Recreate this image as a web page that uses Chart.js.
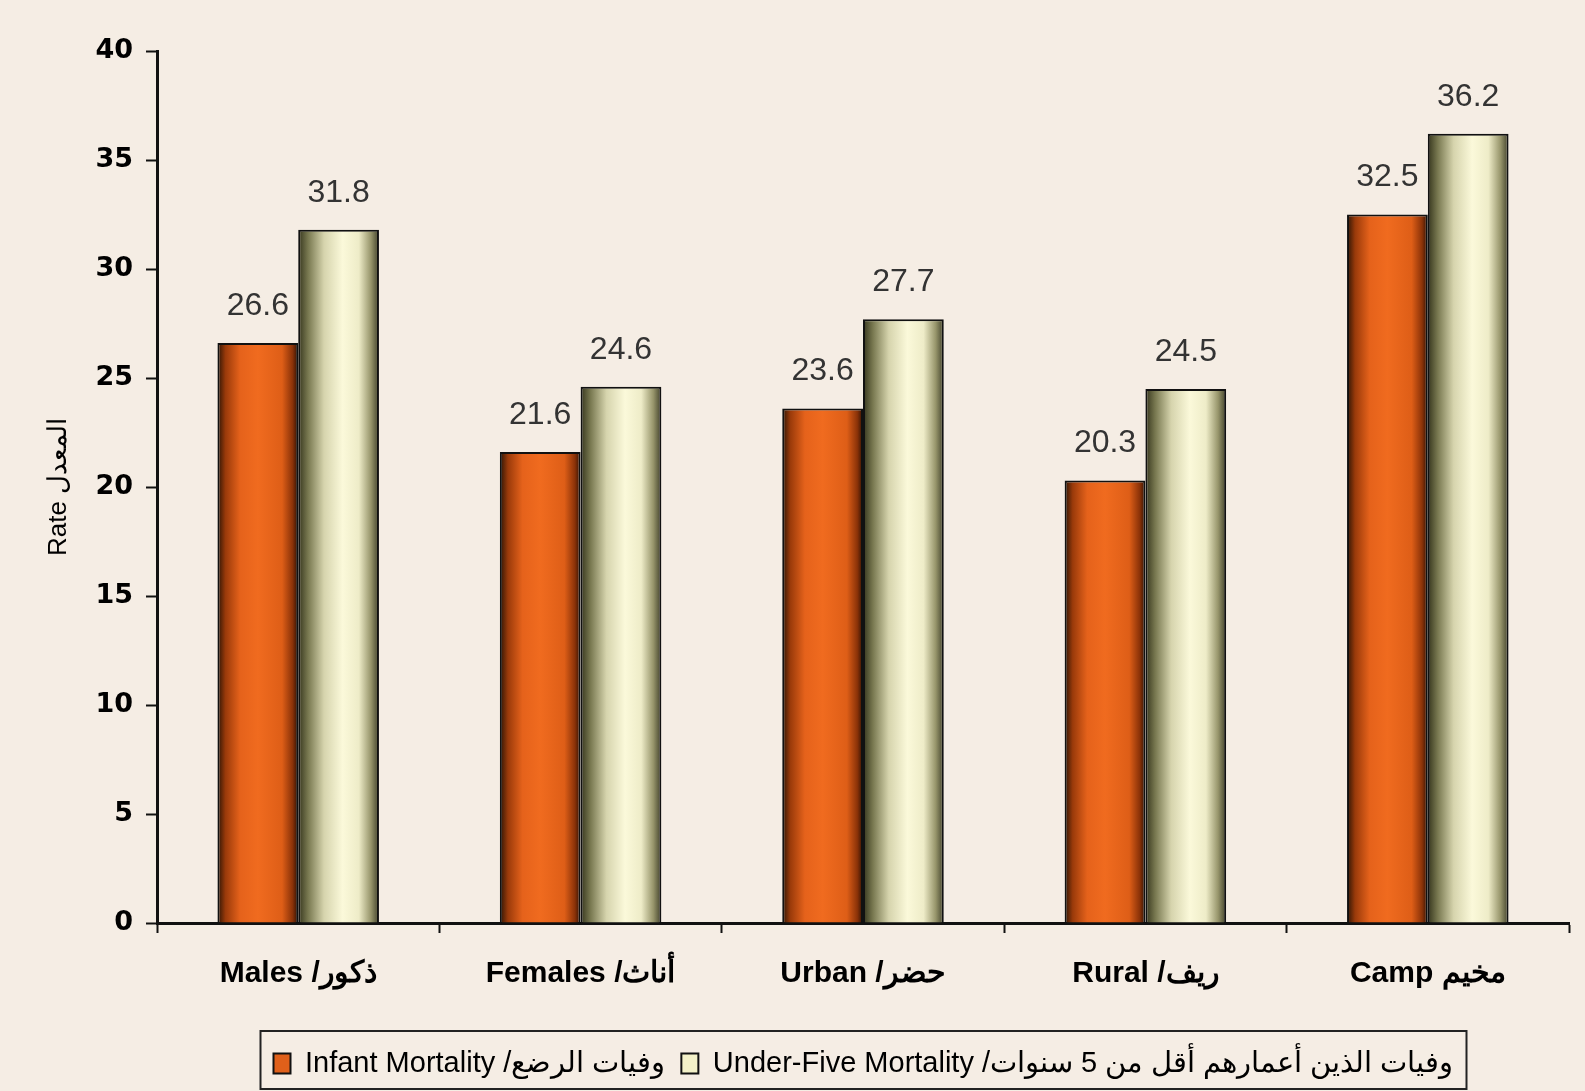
<!DOCTYPE html>
<html>
<head>
<meta charset="utf-8">
<script src="https://cdn.jsdelivr.net/npm/chart.js@4.4.0/dist/chart.umd.min.js"></script>
<style>
  body { margin: 0; background: #f5ede4; }
  #wrap { width: 1585px; height: 1091px; position: relative; }
</style>
</head>
<body>
<div id="wrap"><canvas id="myChart"></canvas></div>
<script>
const categories = ['Males /ذكور', 'Females /أناث', 'Urban /حضر', 'Rural /ريف', 'Camp مخيم']
const infant = [26.6, 21.6, 23.6, 20.3, 32.5]
const underFive = [31.8, 24.6, 27.7, 24.5, 36.2]
const seriesNames = ['Infant Mortality /وفيات الرضع', 'Under-Five Mortality /وفيات الذين أعمارهم أقل من 5 سنوات']
const yTicks = [0, 5, 10, 15, 20, 25, 30, 35, 40]

// horizontal shading per bar, like the old 3d excel look
const shades = [
    [[0, '#2a1405'], [0.1, '#9a3a0a'], [0.28, '#e5621b'], [0.5, '#f06b1f'], [0.8, '#de5e17'], [0.93, '#8a3208'], [1, '#2c1004']],
    [[0, '#35351d'], [0.12, '#77774f'], [0.32, '#d6d4ad'], [0.55, '#fbf9da'], [0.75, '#eeecc8'], [0.9, '#97956b'], [1, '#40402a']]
]

const shadePlugin = {
    id: 'shade',
    afterLayout(chart) {
        // legend frame sits a bit right of centre in the original
        const lg = chart.legend
        if (lg) { lg.left += 79; lg.right += 79 }
    },
    beforeDatasetsDraw(chart) {
        const ctx = chart.ctx
        chart.data.datasets.forEach((ds, di) => {
            chart.getDatasetMeta(di).data.forEach(bar => {
                const g = ctx.createLinearGradient(bar.x - bar.width / 2, 0, bar.x + bar.width / 2, 0)
                shades[di].forEach(s => g.addColorStop(s[0], s[1]))
                bar.options = Object.assign({}, bar.options, { backgroundColor: g })
            })
        })
    },
    afterDatasetsDraw(chart) {
        const ctx = chart.ctx
        ctx.save()
        ctx.font = '32px "Liberation Sans", Arial, sans-serif'
        ctx.fillStyle = '#333'
        ctx.textAlign = 'center'
        ctx.textBaseline = 'middle'
        chart.data.datasets.forEach((ds, di) => {
            chart.getDatasetMeta(di).data.forEach((bar, i) => {
                ctx.fillText(ds.data[i].toFixed(1), bar.x, bar.y - 37)
            })
        })
        ctx.restore()
    },
    afterDraw(chart) {
        // frame round the legend
        const boxes = chart.legend.legendHitBoxes
        if (!boxes || !boxes.length) return
        const first = boxes[0], last = boxes[boxes.length - 1]
        const ctx = chart.ctx
        ctx.save()
        ctx.strokeStyle = '#222'
        ctx.lineWidth = 2
        ctx.strokeRect(first.left - 13, 1031, last.left + last.width - first.left + 26, 58)
        ctx.restore()
    }
}

const dataset = {
    labels: categories,
    datasets: [{
        label: seriesNames[0],
        data: infant,
        backgroundColor: '#e0601a',
        borderColor: '#111',
        borderWidth: 2,
        categoryPercentage: 0.572,
        barPercentage: 1
    }, {
        label: seriesNames[1],
        data: underFive,
        backgroundColor: '#f3f1c8',
        borderColor: '#111',
        borderWidth: 2,
        categoryPercentage: 0.572,
        barPercentage: 1
    }]
}

const config = {
    type: 'bar',
    data: dataset,
    plugins: [shadePlugin],
    options: {
        responsive: true,
        maintainAspectRatio: false,
        animation: false,
        layout: { padding: { top: 51, right: 16, bottom: 3, left: 0 } },
        plugins: {
            tooltip: { enabled: false },
            legend: {
                position: 'bottom',
                labels: {
                    color: '#000',
                    font: { family: '"Liberation Sans", Arial, sans-serif', size: 29 },
                    boxWidth: 17,
                    boxHeight: 20,
                    padding: 16
                }
            }
        },
        scales: {
            x: {
                afterFit(s) { s.height = 110 },
                grid: { display: true, drawOnChartArea: false, offset: true, color: '#111', tickLength: 10, tickWidth: 2 },
                border: { color: '#111', width: 3 },
                ticks: {
                    color: '#000',
                    padding: 23,
                    font: { family: '"Liberation Sans", Arial, sans-serif', size: 30, weight: 'bold' }
                }
            },
            y: {
                min: 0,
                max: 40,
                afterFit(s) { s.width = 157 },
                afterBuildTicks(s) { s.ticks = yTicks.map(v => ({ value: v })) },
                grid: { display: true, drawOnChartArea: false, color: '#111', tickLength: 11, tickWidth: 2 },
                border: { color: '#111', width: 3 },
                ticks: {
                    color: '#000',
                    padding: 13,
                    font: { family: '"DejaVu Sans", Verdana, sans-serif', size: 27, weight: 'bold' }
                },
                title: {
                    display: true,
                    text: 'Rate المعدل',
                    color: '#000',
                    padding: { top: 43, bottom: 0 },
                    font: { family: '"Liberation Sans", Arial, sans-serif', size: 26 }
                }
            }
        }
    }
}

let myChart = new Chart(document.getElementById('myChart'), config)
</script>
</body>
</html>
